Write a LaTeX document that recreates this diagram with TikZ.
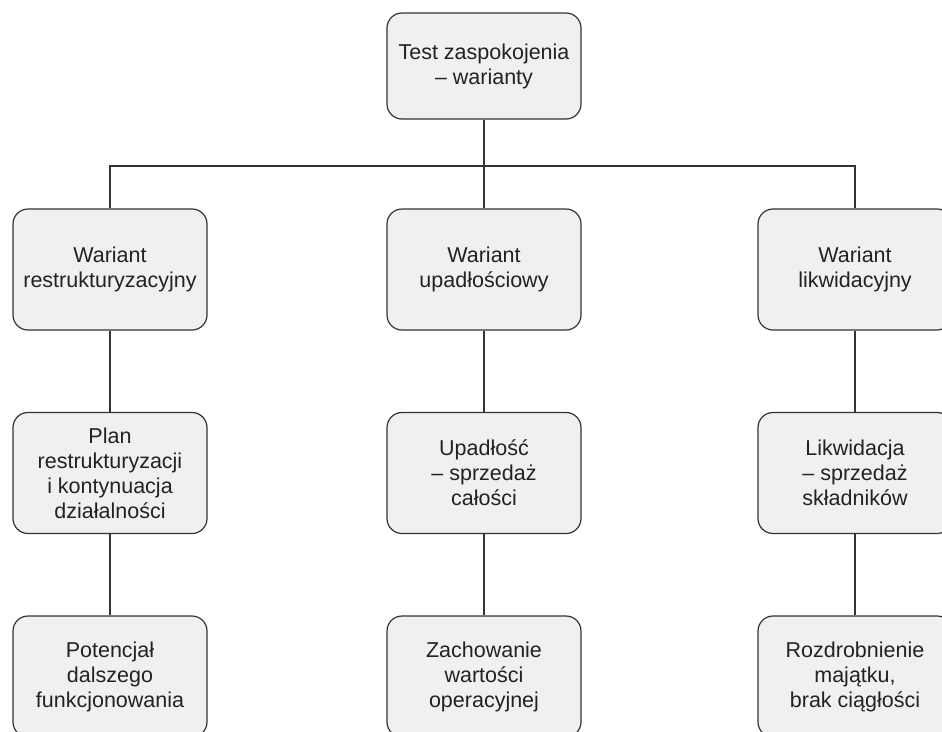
\documentclass[tikz,border=0pt]{standalone}
\usepackage{fontspec}
\setmainfont{Liberation Sans}
\usepackage{tikz}
\usetikzlibrary{positioning}
\definecolor{bg}{HTML}{FFFFFF}
\definecolor{cardbg}{HTML}{F0F0F0}
\definecolor{ink}{HTML}{222222}
\definecolor{edge}{HTML}{333333}
\tikzset{
  card/.style={draw=edge, fill=cardbg, line width=1.2pt, rounded corners=15pt,
    minimum width=194pt, minimum height=121pt, inner sep=0pt, align=center,
    text=ink, font=\fontsize{21.5}{25}\selectfont},
  cardtop/.style={card, minimum height=106pt},
  wire/.style={draw=edge, line width=1.2pt},
}
\begin{document}
\begin{tikzpicture}[x=1pt, y=1pt]
\useasboundingbox (0,0) rectangle (942,-731);
\fill[bg] (0,0) rectangle (942,-731);
\node[cardtop] (test) at (484,-66) {Test zaspokojenia\\ -- warianty};
\node[card] (wres) at (110,-269.5) {Wariant\\ restrukturyzacyjny};
\node[card] (wupa) at (484,-269.5) {Wariant\\ upadłościowy};
\node[card] (wlik) at (855,-269.5) {Wariant\\ likwidacyjny};
\node[card] (plan) at (110,-473) {Plan\\ restrukturyzacji\\ i kontynuacja\\ działalności};
\node[card] (upad) at (484,-473) {Upadłość\\ -- sprzedaż\\ całości};
\node[card] (likw) at (855,-473) {Likwidacja\\ -- sprzedaż\\ składników};
\node[card] (pote) at (110,-676.5) {Potencjał\\ dalszego\\ funkcjonowania};
\node[card] (zach) at (484,-676.5) {Zachowanie\\ wartości\\ operacyjnej};
\node[card] (rozd) at (855,-676.5) {Rozdrobnienie\\ majątku,\\ brak ciągłości};
\coordinate (bus) at (484,-166);
\draw[wire] (test.south) -- (wupa.north);
\draw[wire] (wres.north) |- (bus) -| (wlik.north);
\draw[wire] (wres.south) -- (plan.north);
\draw[wire] (wupa.south) -- (upad.north);
\draw[wire] (wlik.south) -- (likw.north);
\draw[wire] (plan.south) -- (pote.north);
\draw[wire] (upad.south) -- (zach.north);
\draw[wire] (likw.south) -- (rozd.north);
\end{tikzpicture}
\end{document}
